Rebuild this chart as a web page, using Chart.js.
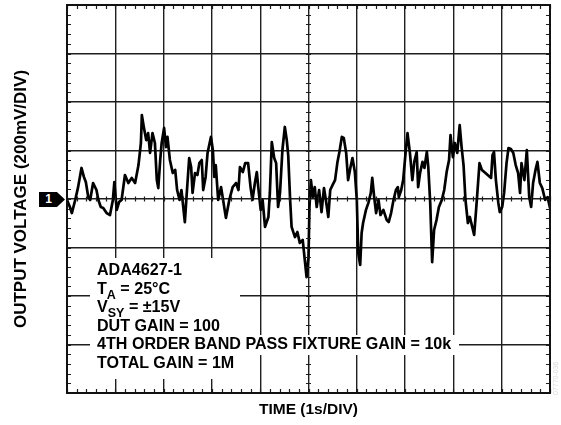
<!DOCTYPE html>
<html><head><meta charset="utf-8">
<script src="https://cdn.jsdelivr.net/npm/chart.js@4/dist/chart.umd.min.js"></script>
<style>
html,body{margin:0;padding:0;background:#fff;}
#wrap{position:relative;width:561px;height:425px;overflow:hidden;background:#fff;}
canvas{position:absolute;left:0;top:0;}
.bx{position:absolute;background:#fff;}
#note{position:absolute;left:97px;top:260.3px;font:bold 16.1px/18.5px "Liberation Sans",Arial,sans-serif;color:#000;white-space:nowrap;}
#note sub{font-size:12.5px;line-height:0;vertical-align:-4.5px;}
#marker{position:absolute;left:39px;top:192px;width:26px;height:15px;background:#000;clip-path:polygon(0 0,69% 0,100% 50%,69% 100%,0 100%);}
#marker span{position:absolute;left:5px;width:9px;top:0;text-align:center;color:#fff;font:bold 12px/15px "Liberation Sans",Arial,sans-serif;}
#fig{position:absolute;left:552px;top:395px;transform:rotate(-90deg);transform-origin:0 0;font:7px "Liberation Sans",Arial,sans-serif;color:#d8d8d8;white-space:nowrap;}
</style></head>
<body>
<div id="wrap">
<canvas id="c" width="561" height="425"></canvas>
<div class="bx" style="left:90px;top:258px;width:150px;height:77px"></div>
<div class="bx" style="left:90px;top:335px;width:369px;height:20px"></div>
<div class="bx" style="left:90px;top:355px;width:155px;height:24px"></div>
<div id="note">ADA4627-1<br>T<sub>A</sub> = 25°C<br>V<sub>SY</sub> = ±15V<br>DUT GAIN = 100<br>4TH ORDER BAND PASS FIXTURE GAIN = 10k<br>TOTAL GAIN = 1M</div>
<div id="marker"><span>1</span></div>
<div id="fig">07770-036</div>
</div>
<script>
// sample times (s) and output voltage (mV)
const timeS = [0.00,0.06,0.10,0.17,0.23,0.30,0.35,0.39,0.44,0.48,0.54,0.61,0.65,0.70,0.75,0.82,0.89,0.95,0.98,1.03,1.08,1.13,1.20,1.27,1.34,1.41,1.48,1.53,1.55,1.59,1.64,1.68,1.72,1.77,1.82,1.86,1.89,1.93,1.96,2.01,2.05,2.08,2.13,2.19,2.24,2.28,2.33,2.37,2.44,2.48,2.53,2.57,2.60,2.65,2.70,2.74,2.79,2.82,2.87,2.91,2.98,3.02,3.05,3.08,3.13,3.19,
3.29,3.36,3.43,3.50,3.55,3.58,3.64,3.69,3.75,3.80,3.84,3.89,3.93,3.96,4.01,4.05,4.10,4.17,4.20,4.24,4.29,4.33,4.37,4.41,4.46,4.51,4.55,4.58,4.62,4.65,4.72,4.77,4.82,4.88,4.93,4.96,5.00,5.02,5.05,5.09,5.13,5.17,5.22,5.27,5.32,5.36,5.41,5.45,5.50,5.55,5.60,5.64,5.69,5.73,5.78,5.82,5.87,5.91,5.96,6.00,6.03,6.07,6.10,6.13,6.19,6.24,6.29,6.32,6.36,6.40,6.45,6.49,6.55,6.62,6.66,
6.71,6.76,6.81,6.85,6.87,6.92,6.96,7.01,7.05,7.10,7.15,7.19,7.24,7.27,7.31,7.36,7.40,7.45,7.48,7.52,7.55,7.56,7.60,7.65,7.70,7.76,7.81,7.86,7.91,7.94,7.99,8.03,8.08,8.13,8.17,8.21,8.25,8.30,8.34,8.39,8.43,8.47,8.50,8.54,8.59,8.64,8.71,8.78,8.81,8.84,8.88,8.93,8.96,9.01,9.05,9.10,9.14,9.19,9.24,9.29,9.34,9.38,9.41,9.47,9.52,9.57,9.61,9.65,9.70,9.74,9.79,9.84,9.90,9.95,10.00];
const voltMV = [-4,-33,-58,-4,49,128,91,70,8,-4,66,37,-4,-33,-37,-58,-66,-4,70,-45,-12,-4,99,66,87,66,140,231,346,297,243,272,190,272,231,78,45,161,231,293,214,256,161,107,120,37,-4,37,-95,25,169,132,25,107,99,148,161,37,91,190,256,202,91,140,-4,49,
-78,-4,49,66,37,132,111,148,148,49,-4,66,111,49,-45,-4,-115,-74,25,235,169,148,-33,25,202,297,243,181,-4,-115,-157,-136,-181,-169,-264,-322,-239,-33,78,8,49,-33,37,-54,45,-4,-74,37,58,78,153,194,256,252,190,78,132,169,111,-4,-223,-272,-140,-99,-45,-16,25,87,8,-58,-4,-66,-45,-87,-95,
-58,-4,37,49,8,37,78,190,272,190,78,153,194,49,107,153,128,194,132,-16,-198,-260,-128,-87,-33,-4,37,111,161,264,173,231,190,305,214,140,-4,-99,-74,-115,-148,-45,37,148,120,111,99,87,181,194,78,-16,-54,-33,25,148,210,206,190,140,107,25,148,78,202,8,-33,66,120,153,66,45,-4,8,-37];
// screen: 10 horizontal divisions of 1 s, 8 vertical divisions of 200 mV
const xRange = [0, 10];
const yRange = [-800, 800];
const xDiv = 1, yDiv = 200;
const xTitle = 'TIME (1s/DIV)';
const yTitle = 'OUTPUT VOLTAGE (200mV/DIV)';

const points = timeS.map((t, i) => ({x: t, y: voltMV[i]}));
const GRID = '#1e1e1e';

const scopeDecor = {
  id: 'scopeDecor',
  afterDatasetsDraw(chart) {
    const {ctx, chartArea: a, scales: {x, y}} = chart;
    ctx.save();
    ctx.strokeStyle = GRID;
    ctx.lineWidth = 1.2;
    ctx.beginPath();
    const yc = y.getPixelForValue(0);
    const xc = x.getPixelForValue((xRange[0] + xRange[1]) / 2);
    for (let k = 0; k <= 50; k++) {
      const px = Math.round(x.getPixelForValue(xRange[0] + k * xDiv / 5)) + 0.5;
      ctx.moveTo(px, a.top); ctx.lineTo(px, a.top + 4);
      ctx.moveTo(px, a.bottom); ctx.lineTo(px, a.bottom - 4);
      ctx.moveTo(px, yc - 2.5); ctx.lineTo(px, yc + 2.5);
    }
    for (let k = 0; k <= 40; k++) {
      const py = Math.round(y.getPixelForValue(yRange[0] + k * yDiv / 5)) + 0.5;
      ctx.moveTo(a.left, py); ctx.lineTo(a.left + 4, py);
      ctx.moveTo(a.right, py); ctx.lineTo(a.right - 4, py);
      ctx.moveTo(xc - 2.5, py); ctx.lineTo(xc + 2.5, py);
    }
    ctx.stroke();
    ctx.lineWidth = 2;
    ctx.strokeStyle = '#111';
    ctx.strokeRect(a.left, a.top, a.right - a.left, a.bottom - a.top);
    ctx.restore();
  }
};

new Chart(document.getElementById('c'), {
  type: 'line',
  data: { datasets: [{ data: points, borderColor: '#000', borderWidth: 2.7, borderJoinStyle: 'round', borderCapStyle: 'round', pointRadius: 0, tension: 0, fill: false }] },
  options: {
    responsive: false, animation: false, devicePixelRatio: 1,
    layout: { padding: { left: 7.4, top: 5, right: 11, bottom: 0 } },
    plugins: { legend: { display: false }, tooltip: { enabled: false } },
    scales: {
      x: {
        type: 'linear', min: xRange[0], max: xRange[1],
        ticks: { display: false, stepSize: xDiv },
        grid: { color: GRID, lineWidth: 1.4, drawTicks: false },
        border: { display: false },
        title: { display: true, text: xTitle, color: '#000', font: { family: 'Liberation Sans', size: 15.5, weight: 'bold' }, padding: { top: 7.7, bottom: 5.7 } }
      },
      y: {
        type: 'linear', min: yRange[0], max: yRange[1],
        ticks: { display: false, stepSize: yDiv },
        grid: { color: GRID, lineWidth: 1.4, drawTicks: false },
        border: { display: false },
        title: { display: true, text: yTitle, color: '#000', font: { family: 'Liberation Sans', size: 17, weight: 'bold' }, padding: { top: 4, bottom: 35.2 } }
      }
    }
  },
  plugins: [scopeDecor]
});
</script>
</body></html>
